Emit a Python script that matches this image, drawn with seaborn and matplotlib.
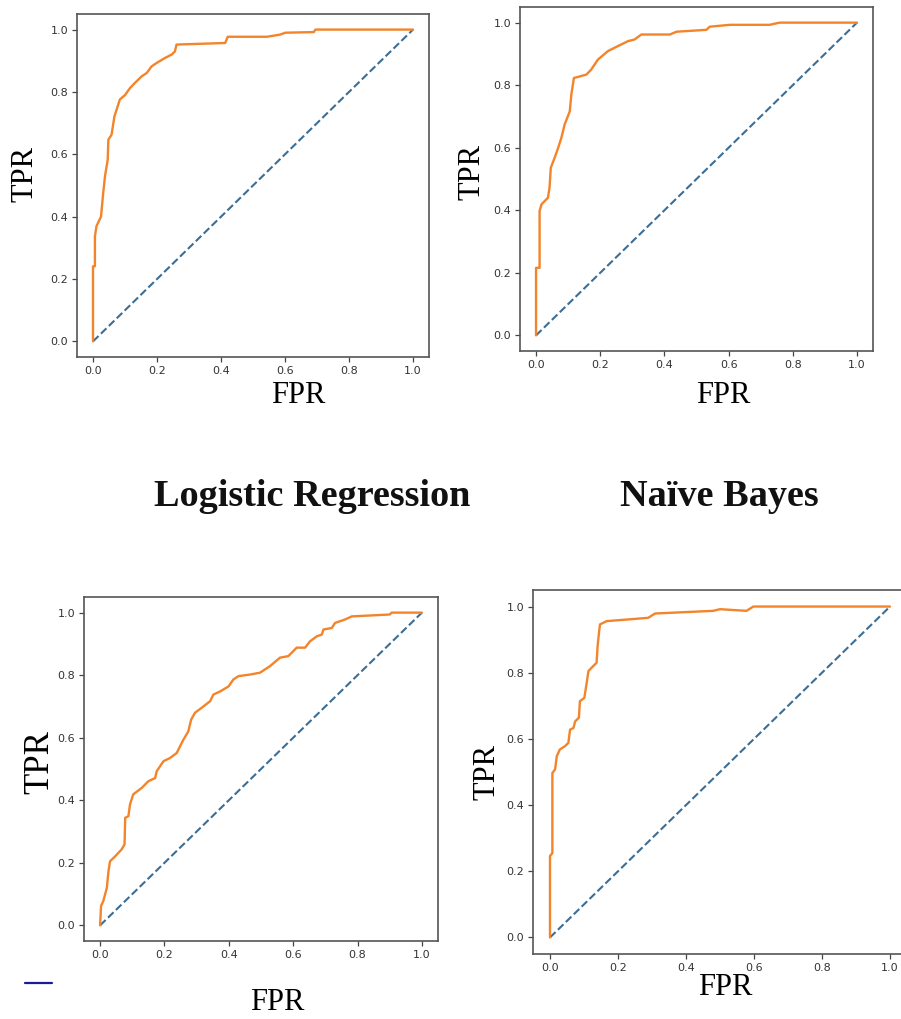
import matplotlib
matplotlib.use("Agg")
import matplotlib.pyplot as plt
from matplotlib.lines import Line2D
import seaborn as sns
import pandas as pd

# ---------------- data ----------------
lr_fpr = [0, 0, 0.006, 0.006, 0.011, 0.025, 0.032, 0.0375, 0.046, 0.048, 0.058, 0.067,
          0.079, 0.084, 0.1, 0.116, 0.131, 0.152, 0.168, 0.183, 0.199, 0.225, 0.246,
          0.256, 0.261, 0.413, 0.421, 0.544, 0.585, 0.601, 0.69, 0.695, 1.0]
lr_tpr = [0, 0.241, 0.241, 0.337, 0.37, 0.40, 0.477, 0.53, 0.583, 0.647, 0.663, 0.722,
          0.76, 0.776, 0.79, 0.813, 0.829, 0.85, 0.861, 0.882, 0.893, 0.909, 0.92,
          0.93, 0.952, 0.957, 0.977, 0.977, 0.984, 0.99, 0.992, 1.0, 1.0]

nb_fpr = [0, 0, 0.011, 0.011, 0.017, 0.037, 0.042, 0.046, 0.058, 0.069, 0.079, 0.089,
          0.105, 0.11, 0.118, 0.136, 0.157, 0.172, 0.193, 0.224, 0.255, 0.287, 0.307,
          0.328, 0.417, 0.438, 0.531, 0.541, 0.604, 0.728, 0.759, 1.0]
nb_tpr = [0, 0.216, 0.216, 0.397, 0.419, 0.44, 0.472, 0.536, 0.568, 0.6, 0.632, 0.674,
          0.716, 0.77, 0.823, 0.828, 0.834, 0.85, 0.882, 0.909, 0.925, 0.941, 0.946,
          0.962, 0.962, 0.971, 0.977, 0.987, 0.993, 0.993, 1.0, 1.0]

m3_fpr = [0, 0.003, 0.01, 0.021, 0.026, 0.031, 0.047, 0.067, 0.076, 0.078, 0.088, 0.093,
          0.103, 0.13, 0.15, 0.171, 0.176, 0.197, 0.217, 0.238, 0.259, 0.274, 0.283,
          0.295, 0.316, 0.342, 0.352, 0.373, 0.399, 0.414, 0.43, 0.466, 0.497, 0.528,
          0.559, 0.585, 0.611, 0.637, 0.652, 0.673, 0.689, 0.694, 0.72, 0.73, 0.761,
          0.782, 0.9, 0.906, 1.0]
m3_tpr = [0, 0.062, 0.078, 0.12, 0.173, 0.205, 0.221, 0.243, 0.259, 0.344, 0.349, 0.387,
          0.419, 0.44, 0.461, 0.471, 0.493, 0.525, 0.535, 0.551, 0.594, 0.62, 0.658,
          0.68, 0.696, 0.717, 0.738, 0.748, 0.764, 0.786, 0.797, 0.802, 0.808, 0.829,
          0.856, 0.861, 0.888, 0.888, 0.908, 0.924, 0.93, 0.946, 0.951, 0.967, 0.978,
          0.988, 0.994, 1.0, 1.0]

m4_fpr = [0, 0, 0.007, 0.007, 0.015, 0.02, 0.029, 0.044, 0.054, 0.059, 0.069, 0.074,
          0.085, 0.088, 0.101, 0.108, 0.113, 0.127, 0.137, 0.14, 0.144, 0.147, 0.167,
          0.23, 0.289, 0.309, 0.48, 0.5, 0.578, 0.598, 1.0]
m4_tpr = [0, 0.246, 0.255, 0.497, 0.508, 0.548, 0.568, 0.578, 0.588, 0.628, 0.633, 0.653,
          0.664, 0.714, 0.724, 0.77, 0.805, 0.82, 0.83, 0.88, 0.92, 0.946, 0.956,
          0.961, 0.966, 0.979, 0.987, 0.992, 0.987, 1.0, 1.0]

chance = [0, 1]
ticks = [0.0, 0.2, 0.4, 0.6, 0.8, 1.0]
tick_labels = ["0.0", "0.2", "0.4", "0.6", "0.8", "1.0"]
titles = ["Logistic Regression", "Naïve Bayes"]

# ---------------- figure ----------------
sns.set_theme(style="white")
plt.rcParams["font.family"] = ["DejaVu Sans"]

W, H = 901, 1019
fig = plt.figure(figsize=(W / 100, H / 100), dpi=100)
fig.patch.set_facecolor("white")


def px_axes(left, top, w, h):
    return fig.add_axes([left / W, 1 - (top + h) / H, w / W, h / H])


ORANGE = "#f3842a"
BLUE = "#3b6e96"

panels = [
    dict(rect=(77, 14, 352, 343), fpr=lr_fpr, tpr=lr_tpr,
         tpr_lab=(25, 174, 22), fpr_lab=(298, 403, 22)),
    dict(rect=(520, 7, 353, 344), fpr=nb_fpr, tpr=nb_tpr,
         tpr_lab=(472, 172, 22), fpr_lab=(723, 403, 22)),
    dict(rect=(84, 597, 354, 344), fpr=m3_fpr, tpr=m3_tpr,
         tpr_lab=(40, 762, 25), fpr_lab=(277, 1010, 22)),
    dict(rect=(533, 590, 374, 364), fpr=m4_fpr, tpr=m4_tpr,
         tpr_lab=(487, 772, 22), fpr_lab=(725, 995, 22)),
]

for p in panels:
    ax = px_axes(*p["rect"])
    df = pd.DataFrame({"FPR": p["fpr"], "TPR": p["tpr"]})
    sns.lineplot(x=chance, y=chance, ax=ax, color=BLUE, linestyle="--",
                 linewidth=1.5, estimator=None, sort=False)
    sns.lineplot(data=df, x="FPR", y="TPR", ax=ax, color=ORANGE,
                 linewidth=1.7, estimator=None, sort=False)
    ax.set_xlim(-0.05, 1.05)
    ax.set_ylim(-0.05, 1.05)
    ax.set_xticks(ticks)
    ax.set_yticks(ticks)
    ax.set_xticklabels(tick_labels)
    ax.set_yticklabels(tick_labels)
    ax.set_xlabel("")
    ax.set_ylabel("")
    ax.tick_params(axis="both", which="both", length=3.5, width=0.9,
                   labelsize=8, colors="#444444", labelcolor="#333333",
                   bottom=True, left=True, pad=3)
    for s in ax.spines.values():
        s.set_visible(True)
        s.set_color("#555555")
        s.set_linewidth(1.2)
    ax.set_facecolor("white")

    tx, ty, tfs = p["tpr_lab"]
    fig.text(tx / W, 1 - ty / H, "TPR", rotation=90, ha="center", va="center",
             fontsize=tfs, family=["Liberation Serif"], color="black")
    fx, fy, ffs = p["fpr_lab"]
    fig.text(fx / W, 1 - fy / H, "FPR", ha="center", va="baseline",
             fontsize=ffs, family=["Liberation Serif"], color="black")

# row titles between the two rows
fig.text(312 / W, 1 - 506 / H, titles[0], ha="center", va="baseline",
         fontsize=27.5, fontweight="bold", family=["Liberation Serif"], color="#111111")
fig.text(719 / W, 1 - 506 / H, titles[1], ha="center", va="baseline",
         fontsize=27.5, fontweight="bold", family=["Liberation Serif"], color="#111111")

# small navy mark at bottom-left
fig.add_artist(Line2D([25 / W, 52 / W], [1 - 983 / H, 1 - 983 / H],
                      color="#1b1b9a", linewidth=1.6, transform=fig.transFigure))

fig.savefig("out.png", dpi=100, facecolor="white")
